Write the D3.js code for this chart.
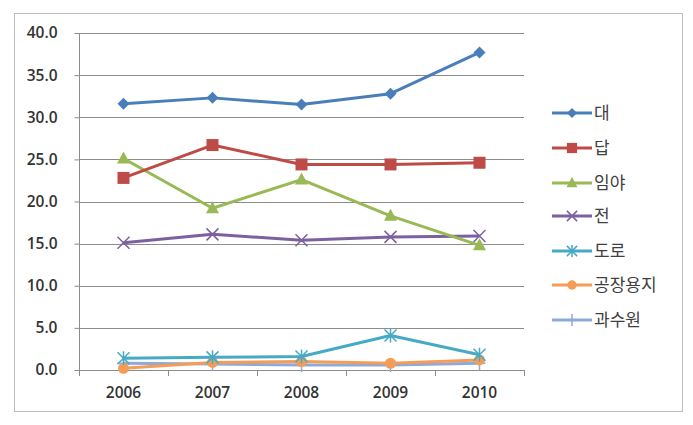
<!DOCTYPE html>
<html><head><meta charset="utf-8">
<script src="https://cdn.jsdelivr.net/npm/d3@7"></script>
<style>body{margin:0;background:#fff;} svg{display:block;}</style>
</head><body>
<script>
const years = ["2006","2007","2008","2009","2010"];
const yTicks = [0,5,10,15,20,25,30,35,40];
const seriesNames = ["대","답","임야","전","도로","공장용지","과수원"];
const vDae = [31.6, 32.3, 31.5, 32.8, 37.7];
const vDap = [22.8, 26.7, 24.4, 24.4, 24.6];
const vImya = [25.1, 19.2, 22.6, 18.3, 14.8];
const vJeon = [15.1, 16.1, 15.4, 15.8, 15.9];
const vDoro = [1.4, 1.5, 1.6, 4.1, 1.8];
const vGongjang = [0.2, 0.9, 1.0, 0.8, 1.2];
const vGwasu = [0.8, 0.7, 0.6, 0.6, 0.8];
const colors = ["#4A7EBB","#BE4B48","#98B954","#7D60A0","#46AAC5","#F59D56","#8EA9DB"];
const markers = ["diamond","square","triangle","cross","asterisk","circle","plus"];
const allValues = [vDae, vDap, vImya, vJeon, vDoro, vGongjang, vGwasu];

const W=693,H=425;
const svg=d3.select("body").append("svg").attr("width",W).attr("height",H);
svg.append("rect").attr("x",14.5).attr("y",13.5).attr("width",668).attr("height",398)
  .attr("fill","#fff").attr("stroke","#bdbdbd");

const x=d3.scaleBand().domain(years).range([79,524]);
const y=d3.scaleLinear().domain([0,40]).range([370,33]);
const font="'Open Sans', 'Liberation Sans', sans-serif";

// gridlines
svg.append("g").selectAll("line").data(yTicks.filter(d=>d>0)).join("line")
  .attr("x1",79).attr("x2",524).attr("y1",d=>Math.round(y(d))+0.5).attr("y2",d=>Math.round(y(d))+0.5)
  .attr("stroke","#8c8c8c").attr("stroke-width",1);

// y axis
const ya=svg.append("g").attr("transform","translate(79.5,0)")
  .call(d3.axisLeft(y).tickValues(yTicks).tickFormat(d3.format(".1f")).tickSize(5).tickPadding(17));
ya.select(".domain").attr("stroke","#8c8c8c").attr("d","M0,33V370.5");
ya.selectAll(".tick line").attr("stroke","#8c8c8c");
ya.selectAll("text").attr("font-family",font).attr("font-size",15.5).attr("font-weight",600).attr("fill","#333");

// x axis
const xa=svg.append("g").attr("transform","translate(0,370.5)")
  .call(d3.axisBottom(x).tickSize(0).tickPadding(16));
xa.select(".domain").attr("stroke","#8c8c8c").attr("d","M79,0H524");
xa.selectAll("text").attr("font-family",font).attr("font-size",15.5).attr("font-weight",600).attr("fill","#333");
const bounds=[...years.map(d=>x(d)),524];
svg.append("g").selectAll("line").data(bounds).join("line")
  .attr("x1",d=>Math.round(d)+0.5).attr("x2",d=>Math.round(d)+0.5).attr("y1",370).attr("y2",376)
  .attr("stroke","#8c8c8c");

function drawMarker(g,type,color,cx,cy,scale){
  const s=scale||1;
  if(type==="diamond"){
    g.append("path").attr("d",`M${cx},${cy-6*s}L${cx+6*s},${cy}L${cx},${cy+6*s}L${cx-6*s},${cy}Z`).attr("fill",color);
  }else if(type==="square"){
    g.append("rect").attr("x",cx-6*s).attr("y",cy-6*s).attr("width",12*s).attr("height",12*s).attr("fill",color);
  }else if(type==="triangle"){
    g.append("path").attr("d",`M${cx},${cy-7*s}L${cx+6.5*s},${cy+5*s}L${cx-6.5*s},${cy+5*s}Z`).attr("fill",color);
  }else if(type==="cross"){
    g.append("path").attr("d",`M${cx-6*s},${cy-6*s}L${cx+6*s},${cy+6*s}M${cx+6*s},${cy-6*s}L${cx-6*s},${cy+6*s}`)
      .attr("stroke",color).attr("stroke-width",1.5);
  }else if(type==="asterisk"){
    g.append("path").attr("d",`M${cx-6*s},${cy-6*s}L${cx+6*s},${cy+6*s}M${cx+6*s},${cy-6*s}L${cx-6*s},${cy+6*s}M${cx},${cy-7*s}L${cx},${cy+7*s}`)
      .attr("stroke",color).attr("stroke-width",1.5);
  }else if(type==="circle"){
    g.append("circle").attr("cx",cx).attr("cy",cy).attr("r",5.5*s).attr("fill",color);
  }else if(type==="plus"){
    g.append("path").attr("d",`M${cx-6*s},${cy}L${cx+6*s},${cy}M${cx},${cy-7*s}L${cx},${cy+7*s}`)
      .attr("stroke",color).attr("stroke-width",1.5);
  }
}

const line=d3.line().x((d,i)=>x(years[i])+x.bandwidth()/2).y(d=>y(d));
for(let k=allValues.length-1;k>=0;k--){
  const g=svg.append("g");
  g.append("path").datum(allValues[k]).attr("d",line).attr("fill","none")
    .attr("stroke",colors[k]).attr("stroke-width",3).attr("stroke-linejoin","round");
  allValues[k].forEach((v,i)=>drawMarker(g,markers[k],colors[k],x(years[i])+x.bandwidth()/2,y(v)));
}

// legend
const legY=[113,148,183,216,251,285,320];
seriesNames.forEach((n,k)=>{
  const g=svg.append("g");
  g.append("line").attr("x1",552).attr("x2",592).attr("y1",legY[k]).attr("y2",legY[k])
    .attr("stroke",colors[k]).attr("stroke-width",3);
  drawMarker(g,markers[k],colors[k],572,legY[k],0.85);
  g.append("text").attr("x",594).attr("y",legY[k]).attr("dy","0.36em")
    .attr("font-family","'Noto Sans CJK KR', sans-serif").attr("font-size",17).attr("fill","#404040").text(n);
});
</script>
</body></html>
